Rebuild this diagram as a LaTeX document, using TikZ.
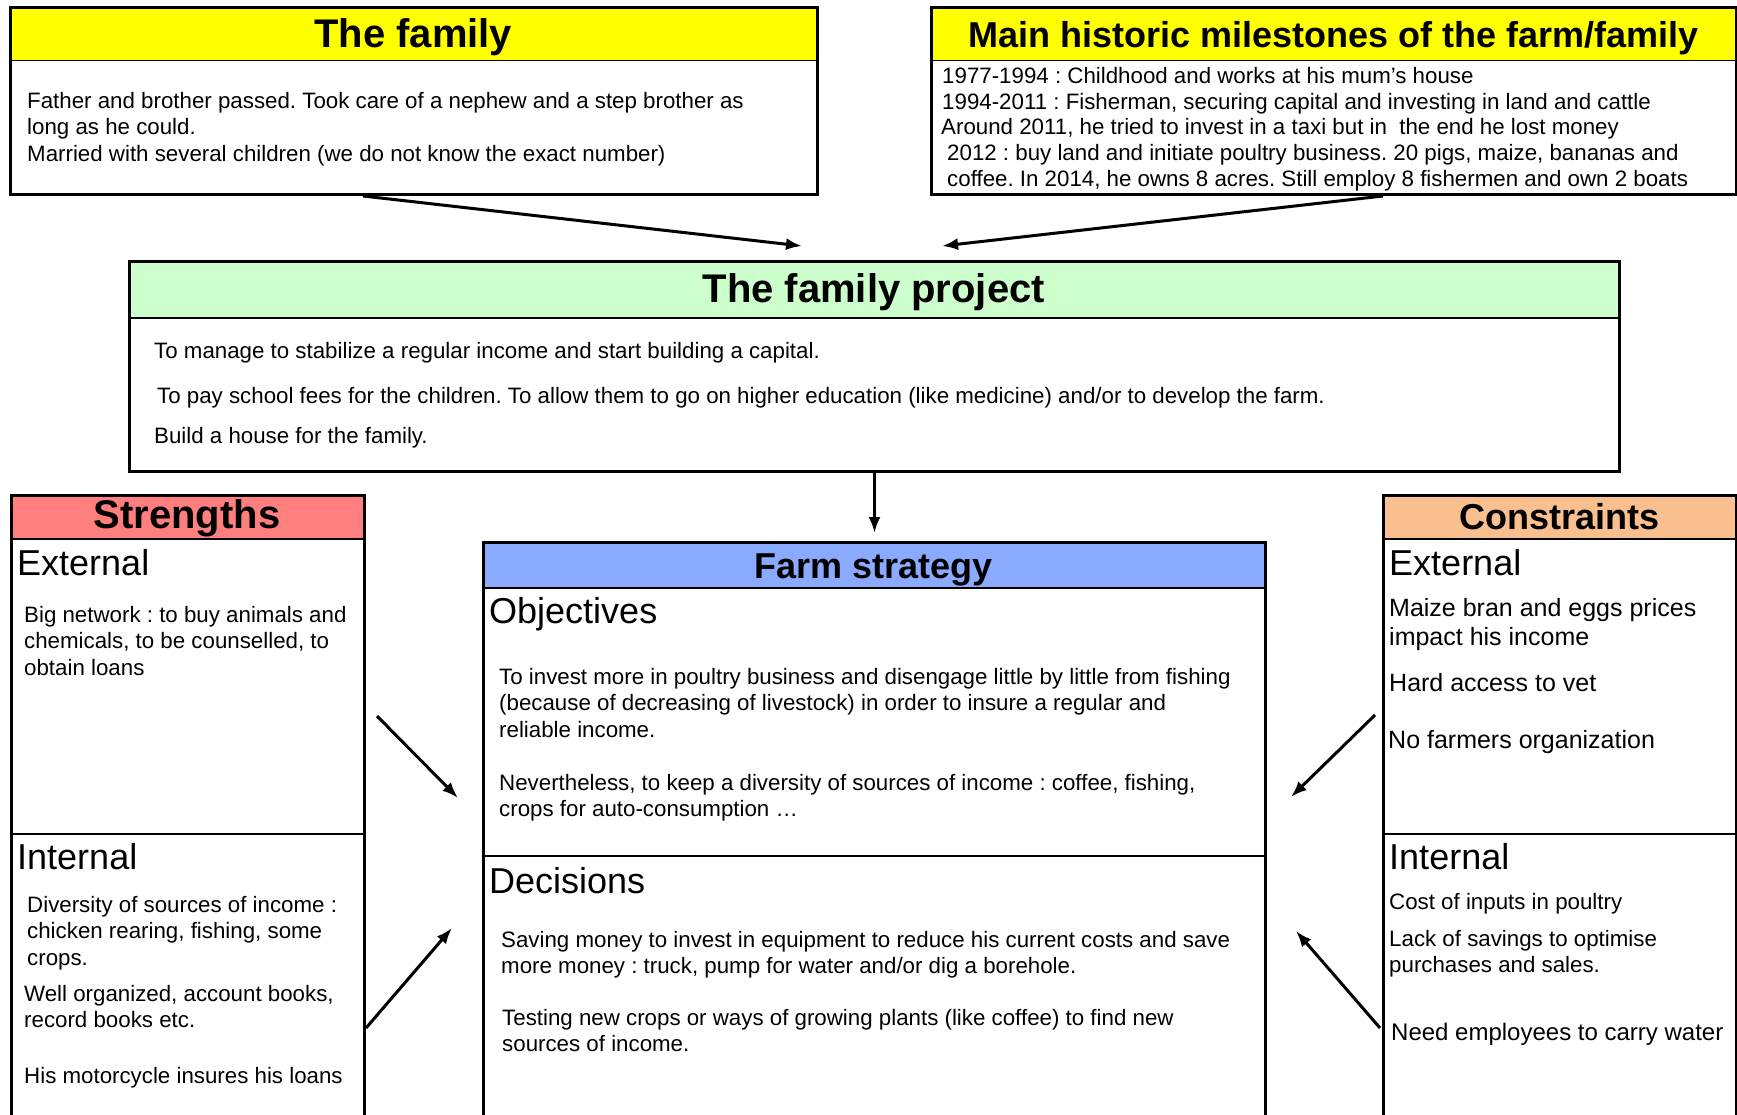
\documentclass[tikz,border=0pt]{standalone}
\usepackage{fontspec}
\setmainfont{Liberation Sans}
\usetikzlibrary{arrows.meta, calc, positioning}
\frenchspacing

\definecolor{headyellow}{HTML}{FFFF00}
\definecolor{headgreen}{HTML}{CCFFCC}
\definecolor{headred}{HTML}{FF7F7F}
\definecolor{headblue}{HTML}{8AAAFF}
\definecolor{headorange}{HTML}{F9BF8F}

\begin{document}
\begin{tikzpicture}[x=1pt, y=-1pt,
    frame/.style={draw, line width=3pt, anchor=north west, inner sep=0pt},
    head/.style={draw, line width=1.5pt, anchor=north west, inner sep=0pt, font=\fontsize{40}{44}\selectfont\bfseries},
    smallhead/.style={head, font=\fontsize{36}{40}\selectfont\bfseries},
    sub/.style={anchor=base west, inner sep=0pt, font=\fontsize{36}{40}\selectfont},
    body/.style={anchor=north west, inner sep=0pt, align=left, font=\fontsize{22.3}{26.6}\selectfont},
    divider/.style={line width=1.5pt},
    link/.style={-{Latex[length=16pt, width=12pt]}, line width=3pt}]
    \useasboundingbox (0,0) rectangle (1737,1115);
    \clip (0,0) rectangle (1737,1115);

    % family
    \node [head, fill=headyellow, minimum width=807pt, text height=41pt, text depth=13pt] (familyhead) at (9,6) {The family};
    \node [frame, minimum width=807pt, minimum height=187pt] (family) at (9,6) {};
    \node [body] (familytxt) at (27,92) {Father and brother passed. Took care of a nephew and a step brother as\\long as he could.\\Married with several children (we do not know the exact number)};

    % milestones
    \node [smallhead, fill=headyellow, minimum width=805pt, text height=41pt, text depth=13pt] (milestoneshead) at (930,6) {Main historic milestones of the farm/family};
    \node [frame, minimum width=805pt, minimum height=187pt] (milestones) at (930,6) {};
    \node [body, font=\fontsize{22.3}{25.7}\selectfont] (milestonestxt) at (941,67) {\hspace*{1pt}1977-1994 : Childhood and works at his mum’s house\\\hspace*{1pt}1994-2011 : Fisherman, securing capital and investing in land and cattle\\Around 2011, he tried to invest in a taxi but in \ the end he lost money\\\hspace*{6pt}2012 : buy land and initiate poultry business. 20 pigs, maize, bananas and\\\hspace*{6pt}coffee. In 2014, he owns 8 acres. Still employ 8 fishermen and own 2 boats};

    % family project
    \node [head, fill=headgreen, minimum width=1490pt, text height=42pt, text depth=15pt] (projecthead) at (128,260) {The family project};
    \node [frame, minimum width=1490pt, minimum height=210pt] (project) at (128,260) {};
    \node [body] (projecttxt1) at (154,342) {To manage to stabilize a regular income and start building a capital.};
    \node [body] (projecttxt2) at (157,387) {To pay school fees for the children. To allow them to go on higher education (like medicine) and/or to develop the farm.};
    \node [body] (projecttxt3) at (154,427) {Build a house for the family.};

    % strengths
    \node [head, fill=headred, minimum width=353.5pt, text height=34pt, text depth=10pt] (strengthshead) at (9.5,494) {Strengths};
    \node [frame, minimum width=353.5pt, minimum height=660pt] (strengths) at (9.5,494) {};
    \draw [divider] ($(strengths.north west)+(0,340)$) -- ($(strengths.north east)+(0,340)$);
    \node [sub] (strengthsext) at (17,575) {External};
    \node [body] (strengthsexttxt) at (24,606) {Big network : to buy animals and\\chemicals, to be counselled, to\\obtain loans};
    \node [sub] (strengthsint) at (17,869) {Internal};
    \node [body] (strengthsinttxt1) at (27,896) {Diversity of sources of income :\\chicken rearing, fishing, some\\crops.};
    \node [body] (strengthsinttxt2) at (24,985) {Well organized, account books,\\record books etc.};
    \node [body] (strengthsinttxt3) at (24,1067) {His motorcycle insures his loans};

    % farm strategy
    \node [smallhead, fill=headblue, minimum width=782pt, text height=37pt, text depth=9pt] (strategyhead) at (482,541) {Farm strategy};
    \node [frame, minimum width=782pt, minimum height=620pt] (strategy) at (482,541) {};
    \draw [divider] ($(strategy.north west)+(0,315)$) -- ($(strategy.north east)+(0,315)$);
    \node [sub] (objectives) at (489,623) {Objectives};
    \node [body] (objectivestxt1) at (499,668) {To invest more in poultry business and disengage little by little from fishing\\(because of decreasing of livestock) in order to insure a regular and\\reliable income.};
    \node [body] (objectivestxt2) at (499,774) {Nevertheless, to keep a diversity of sources of income : coffee, fishing,\\crops for auto-consumption …};
    \node [sub] (decisions) at (489,893) {Decisions};
    \node [body] (decisionstxt1) at (501,931) {Saving money to invest in equipment to reduce his current costs and save\\more money : truck, pump for water and/or dig a borehole.};
    \node [body] (decisionstxt2) at (502,1009) {Testing new crops or ways of growing plants (like coffee) to find new\\sources of income.};

    % constraints
    \node [smallhead, fill=headorange, minimum width=353pt, text height=35pt, text depth=9pt] (constraintshead) at (1382,494) {Constraints};
    \node [frame, minimum width=353pt, minimum height=660pt] (constraints) at (1382,494) {};
    \draw [divider] ($(constraints.north west)+(0,340)$) -- ($(constraints.north east)+(0,340)$);
    \node [sub] (constraintsext) at (1389,575) {External};
    \node [body, font=\fontsize{25}{28.8}\selectfont] (constraintsexttxt1) at (1389,598) {Maize bran and eggs prices\\impact his income};
    \node [body, font=\fontsize{25}{28.8}\selectfont] (constraintsexttxt2) at (1389,673) {Hard access to vet};
    \node [body, font=\fontsize{25}{28.8}\selectfont] (constraintsexttxt3) at (1388,730) {No farmers organization};
    \node [sub] (constraintsint) at (1389,869) {Internal};
    \node [body] (constraintsinttxt1) at (1389,893) {Cost of inputs in poultry};
    \node [body] (constraintsinttxt2) at (1389,930) {Lack of savings to optimise\\purchases and sales.};
    \node [body, font=\fontsize{24}{28}\selectfont] (constraintsinttxt3) at (1391,1023) {Need employees to carry water};

    % links
    \draw [link] ($(family.south west)+(354,0)$) -- ($(project.north west)+(674,-14)$);
    \draw [link] ($(milestones.south west)+(453,0)$) -- ($(project.north west)+(814,-14)$);
    \draw [link, shorten >=8pt] (project.south) -- (strategy.north);
    \draw [link] ($(strengths.north east)+(11,222)$) -- ($(strategy.north west)+(-24,257)$);
    \draw [link] ($(strengths.north east)+(0,534)$) -- ($(strategy.north west)+(-30,387)$);
    \draw [link] ($(constraints.north west)+(-7,221)$) -- ($(strategy.north east)+(24,256)$);
    \draw [link] ($(constraints.north west)+(-2,534)$) -- ($(strategy.north east)+(29,390)$);
\end{tikzpicture}
\end{document}
